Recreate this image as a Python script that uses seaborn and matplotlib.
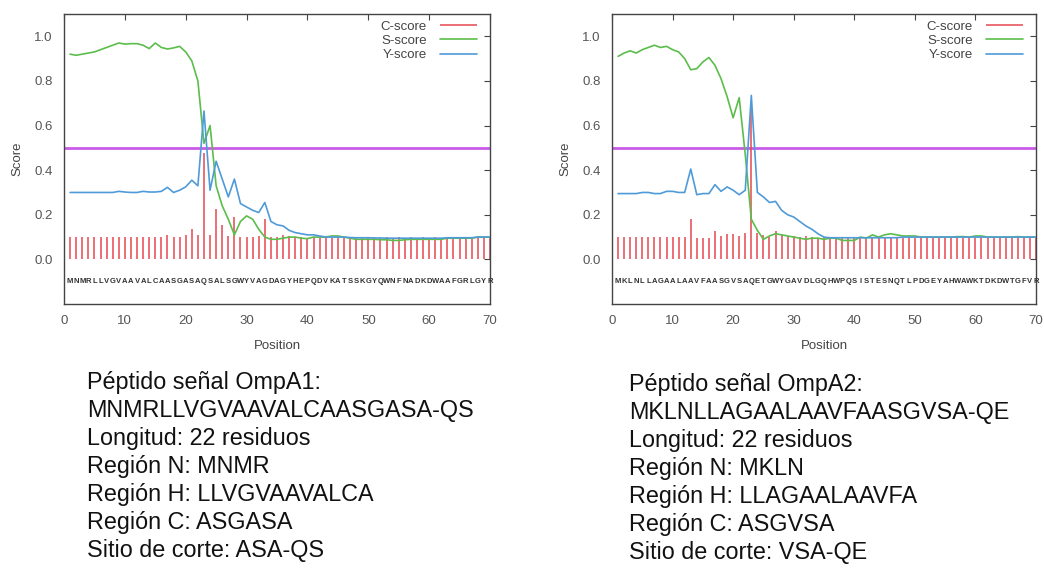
import numpy as np
import seaborn as sns
import matplotlib.pyplot as plt

# data
positions = list(range(1, 71))

seq1 = "MNMRLLVGVAAVALCAASGASAQSALSGWYVAGDAGYHEPQDVKATSSKGYQWNFNADKDWAAFGRLGYR"
seq2 = "MKLNLLAGAALAAVFAASGVSAQETGWYGAVDLGQHWPQSISTESNQTLPDGEYAHWAWKTDKDWTGFVR"

c_score1 = [0.10] * 16 + [0.11, 0.10, 0.10, 0.11, 0.135, 0.11, 0.475, 0.11, 0.225, 0.155,
                          0.105, 0.19, 0.10, 0.10, 0.10, 0.105, 0.18, 0.10, 0.10, 0.11,
                          0.105, 0.10] + [0.10, 0.097] * 16
s_score1 = [0.92, 0.915, 0.92, 0.925, 0.93, 0.94, 0.95, 0.96, 0.97, 0.965,
            0.967, 0.967, 0.96, 0.945, 0.97, 0.95, 0.943, 0.948, 0.955, 0.93,
            0.89, 0.80, 0.52, 0.60, 0.33, 0.24, 0.18, 0.11, 0.17, 0.195,
            0.18, 0.135, 0.10, 0.09, 0.09, 0.095, 0.10, 0.10, 0.095, 0.093,
            0.10, 0.10, 0.10, 0.105, 0.105, 0.10, 0.095, 0.09, 0.09, 0.09,
            0.09, 0.088, 0.088, 0.085, 0.085, 0.088, 0.09, 0.09, 0.09, 0.09,
            0.09, 0.09, 0.095, 0.095, 0.095, 0.095, 0.095, 0.10, 0.10, 0.10]
y_score1 = [0.30, 0.30, 0.30, 0.30, 0.30, 0.30, 0.30, 0.30, 0.305, 0.302,
            0.30, 0.30, 0.305, 0.302, 0.302, 0.305, 0.323, 0.30, 0.31, 0.325,
            0.355, 0.33, 0.665, 0.31, 0.44, 0.36, 0.28, 0.36, 0.25, 0.235,
            0.22, 0.21, 0.255, 0.17, 0.155, 0.15, 0.13, 0.12, 0.115, 0.11,
            0.11, 0.105, 0.10, 0.10, 0.10, 0.10, 0.098, 0.097, 0.097, 0.097,
            0.096, 0.096, 0.095, 0.095, 0.095, 0.095, 0.095, 0.095, 0.095, 0.095,
            0.095, 0.095, 0.097, 0.097, 0.097, 0.097, 0.097, 0.10, 0.10, 0.10]

c_score2 = [0.10] * 12 + [0.18, 0.097, 0.097, 0.097, 0.125, 0.105, 0.115, 0.115, 0.105,
                          0.12, 0.675, 0.12, 0.11, 0.10, 0.125, 0.11, 0.105, 0.105,
                          0.10, 0.105] + [0.10, 0.097] * 19
s_score2 = [0.91, 0.925, 0.935, 0.925, 0.94, 0.95, 0.96, 0.95, 0.955, 0.94,
            0.93, 0.90, 0.85, 0.855, 0.885, 0.905, 0.87, 0.81, 0.73, 0.635,
            0.725, 0.47, 0.18, 0.13, 0.09, 0.105, 0.115, 0.11, 0.105, 0.10,
            0.095, 0.09, 0.095, 0.095, 0.09, 0.095, 0.095, 0.085, 0.085, 0.085,
            0.10, 0.095, 0.11, 0.10, 0.11, 0.115, 0.11, 0.105, 0.105, 0.105,
            0.10, 0.10, 0.10, 0.10, 0.10, 0.10, 0.102, 0.102, 0.10, 0.105,
            0.105, 0.10, 0.10, 0.10, 0.10, 0.10, 0.102, 0.10, 0.10, 0.10]
y_score2 = [0.295, 0.295, 0.295, 0.295, 0.30, 0.30, 0.295, 0.295, 0.305, 0.305,
            0.30, 0.30, 0.405, 0.29, 0.295, 0.295, 0.335, 0.305, 0.325, 0.31,
            0.29, 0.31, 0.735, 0.30, 0.28, 0.255, 0.26, 0.22, 0.20, 0.19,
            0.17, 0.15, 0.135, 0.115, 0.10, 0.097, 0.097, 0.097, 0.097, 0.097,
            0.097, 0.097, 0.097, 0.097, 0.097, 0.097, 0.097, 0.10, 0.10, 0.10,
            0.10, 0.10, 0.10, 0.10, 0.10, 0.10, 0.10, 0.10, 0.10, 0.10,
            0.10, 0.10, 0.10, 0.10, 0.10, 0.10, 0.10, 0.10, 0.10, 0.10]

notes1 = ["Péptido señal OmpA1:", "MNMRLLVGVAAVALCAASGASA-QS", "Longitud: 22 residuos",
          "Región N: MNMR", "Región H: LLVGVAAVALCA", "Región C: ASGASA",
          "Sitio de corte: ASA-QS"]
notes2 = ["Péptido señal OmpA2:", "MKLNLLAGAALAAVFAASGVSA-QE", "Longitud: 22 residuos",
          "Región N: MKLN", "Región H: LLAGAALAAVFA", "Región C: ASGVSA",
          "Sitio de corte: VSA-QE"]

sns.set_style("white")
plt.rcParams['font.family'] = ['Liberation Sans', 'DejaVu Sans']

RED, GREEN, BLUE, MAGENTA = "#e5484f", "#5cbd4c", "#4f9bd9", "#c95be8"

fig = plt.figure(figsize=(10.44, 5.71), dpi=100)
ax1 = fig.add_axes([64 / 1044, 1 - 304 / 571, 426 / 1044, 290 / 571])
ax2 = fig.add_axes([612 / 1044, 1 - 304 / 571, 424 / 1044, 290 / 571])


def draw_panel(ax, seq, c, s, y):
    ax.axhline(0.5, color=MAGENTA, lw=2, zorder=1)
    ax.vlines(positions, 0, c, color=RED, lw=1.1, label="C-score", zorder=2)
    sns.lineplot(x=positions, y=s, ax=ax, color=GREEN, lw=1.2, label="S-score", zorder=3)
    sns.lineplot(x=positions, y=y, ax=ax, color=BLUE, lw=1.2, label="Y-score", zorder=3)
    for i, aa in enumerate(seq):
        ax.text(positions[i], -0.1, aa, ha="center", va="center", fontsize=5.5,
                fontweight="bold", color="#333333")
    ax.set_xlim(0, 70)
    ax.set_ylim(-0.2, 1.1)
    ax.set_xticks(range(0, 71, 10))
    ax.set_yticks([0.0, 0.2, 0.4, 0.6, 0.8, 1.0])
    ax.set_yticklabels(["0.0", "0.2", "0.4", "0.6", "0.8", "1.0"])
    ax.tick_params(direction="in", length=4, width=0.8, top=True, right=True,
                   labelsize=9.5, labelcolor="#555555", color="#444444", pad=8)
    for sp in ax.spines.values():
        sp.set_color("#444444")
        sp.set_linewidth(1.0)
    ax.set_xlabel("Position", fontsize=9.5, color="#444444", labelpad=9)
    ax.set_ylabel("Score", fontsize=9.5, color="#444444", labelpad=8)
    ax.legend(loc="upper right", frameon=False, markerfirst=False, fontsize=9.5,
              handlelength=2.8, handletextpad=1.0, labelspacing=0.15,
              borderaxespad=0.1, bbox_to_anchor=(0.985, 1.0), labelcolor="#444444")


draw_panel(ax1, seq1, c_score1, s_score1, y_score1)
draw_panel(ax2, seq2, c_score2, s_score2, y_score2)

for i, line in enumerate(notes1):
    fig.text(87 / 1044, 1 - (382 + 28 * i) / 571, line, fontsize=16.8, va="center",
             ha="left", color="#111111")
for i, line in enumerate(notes2):
    fig.text(629 / 1044, 1 - (385 + 28 * i) / 571, line, fontsize=16.8, va="center",
             ha="left", color="#111111")

fig.savefig("out.png", dpi=100)
